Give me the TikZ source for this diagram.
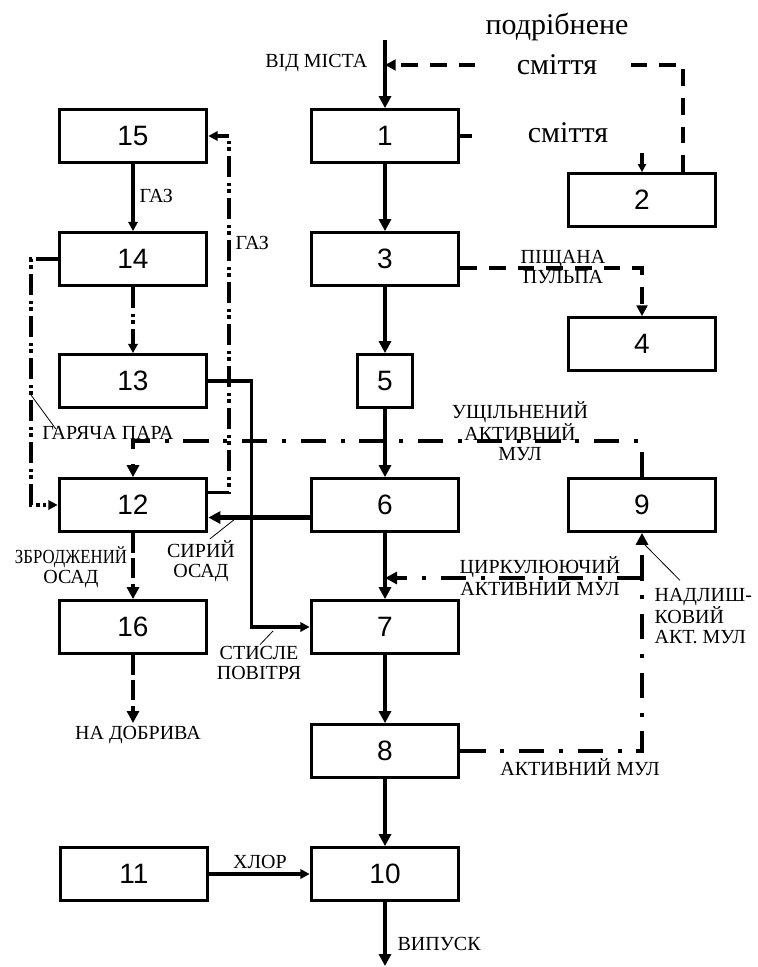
\documentclass[tikz,border=0pt]{standalone}
\usepackage{fontspec}
\setmainfont{Liberation Serif}
\setsansfont{Liberation Sans}
\usetikzlibrary{arrows.meta,calc}

\begin{document}
\begin{tikzpicture}
[x=0.75pt,y=-0.75pt,
  nodeDecorate/.style={shape=rectangle,draw,line width=2.4pt,minimum width=110.6pt,
    minimum height=39.4pt,inner sep=0pt,font=\sffamily\fontsize{21}{21}\selectfont},%
  textDecorate/.style={font=\fontsize{15}{15}\selectfont,align=center,inner sep=1pt},%
  bigText/.style={font=\fontsize{22.5}{23}\selectfont,inner sep=1pt},%
  lineDecorate/.style={line width=3.4pt,-{Triangle[length=9pt,width=9pt]}},%
  thinDecorate/.style={line width=2.4pt,-{Triangle[length=7pt,width=7pt]}},%
  dashDecorate/.style={line width=3pt,dash pattern=on 12.5pt off 9pt,
    -{Triangle[length=8pt,width=8pt]}},%
  gasDecorate/.style={thinDecorate,line width=2.8pt,
    dash pattern=on 16pt off 4pt on 2.5pt off 2.5pt on 2.5pt off 4pt},%
  mulDecorate/.style={lineDecorate,dash pattern=on 19pt off 11pt on 3pt off 11pt},%
  sludgeDecorate/.style={lineDecorate,dash pattern=on 15pt off 4pt},%
  leadDecorate/.style={line width=0.6pt}]
\useasboundingbox (0,0) rectangle (757,967);
%% boxes
\foreach \nodename/\x/\y in {
  %% left column
  15/133/136, 14/133/259, 13/133/381, 12/133/505, 16/133/627, 11/134/874,
  %% main line
  1/385/136, 3/385/259, 6/385/505, 7/385/627, 8/385/751, 10/385/874,
  %% right column
  2/642/200, 4/642/344, 9/642/505}
{
  \node (\nodename) at (\x,\y) [nodeDecorate] {\nodename};
}
\node (5) at (385,381) [nodeDecorate,minimum width=41pt] {5};
%% main line
\coordinate (city) at (385,40);
\coordinate (crush) at (385,65);
\coordinate (outlet) at (385,966);
\draw[lineDecorate] (city) -- (1);
\path
\foreach \startnode/\endnode in {1/3, 3/5, 5/6, 6/7, 7/8, 8/10, 10/outlet}
{
  (\startnode) edge[lineDecorate] (\endnode)
};
\draw[thinDecorate] (11) -- (10);
\draw[thinDecorate] (15) -- (14);
%% waste and sand
\draw[dashDecorate] ($(2.north)!0.55!(2.north east)$) |- (crush);
\draw[line width=2.4pt,dash pattern=on 9pt off 140pt on 40pt,
  -{Triangle[length=6pt,width=6pt]}] (1.east) -| (2.north);
\draw[dashDecorate] ($(3.east)!0.33!(3.south east)$) -| (4.north);
%% gas and steam
\draw[gasDecorate] (14) -- (13);
\draw[gasDecorate] ($(12.east)!0.45!(12.north east)$) -- ++(21,0) |- (15.east);
\draw[gasDecorate] (14.west) -- ++(-27,0) |- (12.west);
\draw[thinDecorate] (13.east) -- ++(43,0) |- (7.west);
%% sludge
\draw[lineDecorate] ($(6.west)!0.45!(6.south west)$) coordinate (raw) -- (raw -| 12.east);
\draw[sludgeDecorate] (12) -- (16);
\coordinate (fert) at (133,723);
\draw[sludgeDecorate] (16) -- (fert);
\draw[mulDecorate] (9.north) -- ++(0,-36) -| (12.north);
\draw[mulDecorate] (8.east) -| (9.south);
\coordinate (circ) at (9.south |- 0,578);
\draw[mulDecorate] (circ) -- (circ -| 7.north);
%% labels
\node (fromCity) at (369,63) [textDecorate,anchor=east] {ВІД МІСТА};
\node (crushText) at (557,27) [bigText] {подрібнене};
\node (crushWaste) at (557,65) [bigText,fill=white,inner xsep=25pt] {сміття};
\node (wasteText) at (568,133) [bigText] {сміття};
\node (sandText) at (563,267) [textDecorate] {ПІЩАНА\\ПУЛЬПА};
\node (gasText) at (138,196) [textDecorate,anchor=west] {ГАЗ};
\node (gasTextB) at (234,243) [textDecorate,anchor=west] {ГАЗ};
\node (steamText) at (108,433) [textDecorate] {ГАРЯЧА ПАРА};
\node (thickText) at (520,431) [textDecorate] {УЩІЛЬНЕНИЙ\\АКТИВНИЙ\\МУЛ};
\node (rawText) at (201,561) [textDecorate] {СИРИЙ\\ОСАД};
\node (digestText) at (71,567) [textDecorate] {\scalebox{0.84}[1]{ЗБРОДЖЕНИЙ}\\ОСАД};
\node (circText) at (540,576) [textDecorate] {ЦИРКУЛЮЮЧИЙ\\АКТИВНИЙ МУЛ};
\node (excessText) at (653,616) [textDecorate,anchor=west,align=left] {НАДЛИШ-\\КОВИЙ\\АКТ. МУЛ};
\node (airText) at (259,663) [textDecorate] {СТИСЛЕ\\ПОВІТРЯ};
\node (fertText) at (138,735) [textDecorate] {НА ДОБРИВА};
\node (activeText) at (580,767) [textDecorate] {АКТИВНИЙ МУЛ};
\node (chlorText) at (260,862) [textDecorate] {ХЛОР};
\node (releaseText) at (396,944) [textDecorate,anchor=west] {ВИПУСК};
%% leaders
\draw[leadDecorate] (31,395) -- ($(steamText.north west)+(15,4)$);
\draw[leadDecorate] (235,519) -- ($(rawText.north)+(9,0)$);
\draw[leadDecorate] (273,631) -- ($(airText.north)+(1,0)$);
\draw[leadDecorate] (645,545) -- ($(excessText.north west)+(27,-6)$);
\end{tikzpicture}
\end{document}
